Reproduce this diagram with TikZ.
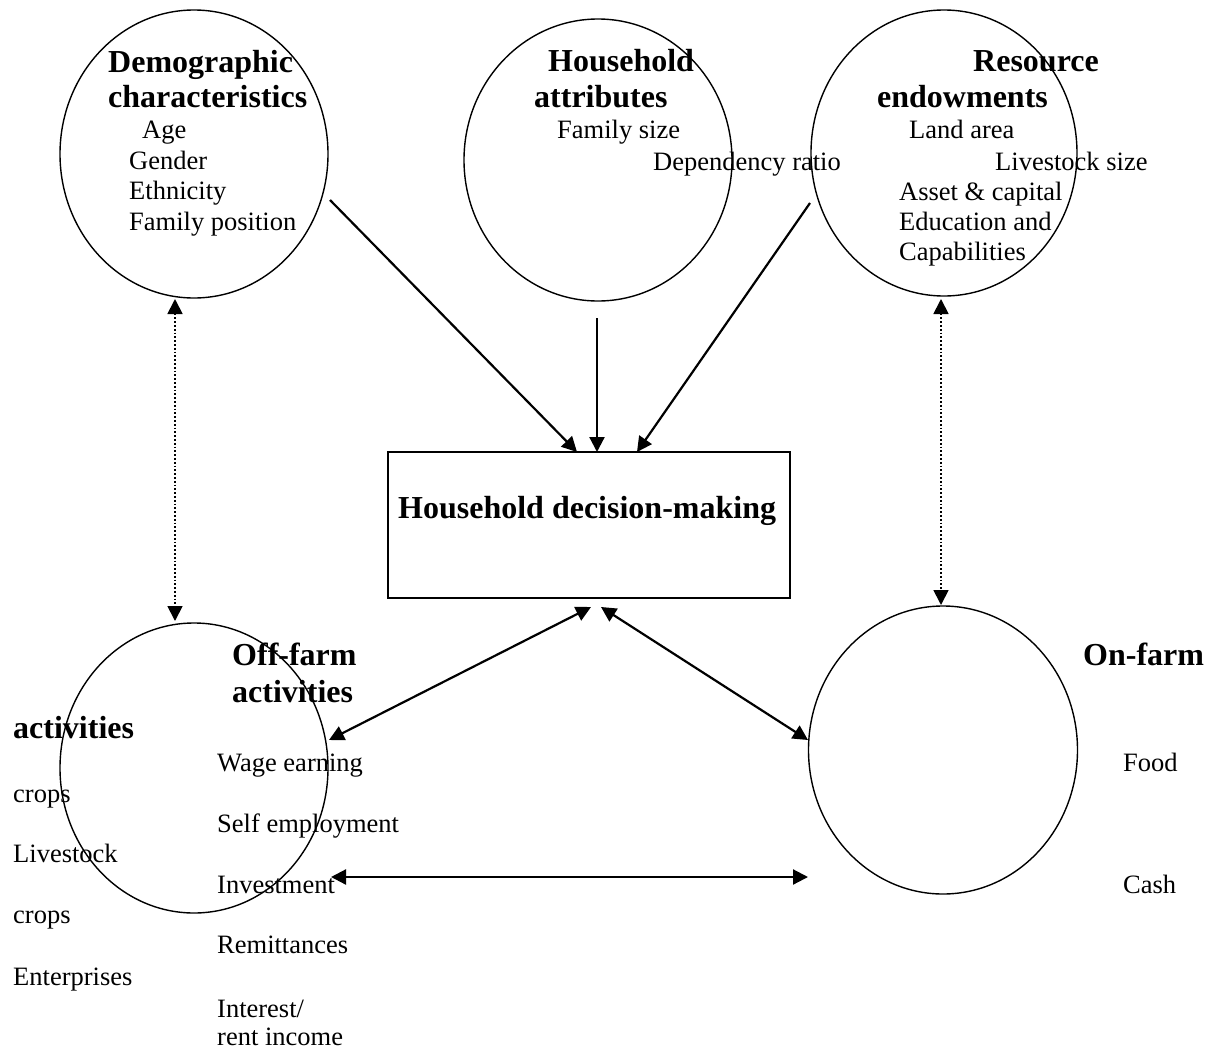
\documentclass[tikz,border=0pt]{standalone}
\usepackage{fontspec}
\setmainfont{Liberation Serif}
\usetikzlibrary{arrows.meta,shapes.geometric}
\begin{document}
\begin{tikzpicture}[x=1pt,y=-1pt,
  oval/.style={draw,ellipse,line width=1.4pt,minimum width=268pt,minimum height=288pt,inner sep=0pt},
  box/.style={draw,rectangle,line width=1.6pt,minimum width=402pt,minimum height=146pt,inner sep=0pt},
  hd/.style={anchor=base west,inner sep=0pt,font=\fontsize{32}{35}\selectfont\bfseries},
  tx/.style={anchor=base west,inner sep=0pt,font=\fontsize{26.5}{30}\selectfont},
  tip/.style={Triangle[length=15pt,width=15pt]},
  link/.style={line width=2.2pt,-{Triangle[length=15pt,width=15pt]}},
  blink/.style={line width=2.2pt,{Triangle[length=15pt,width=15pt]}-{Triangle[length=15pt,width=15pt]}},
  dlink/.style={line width=1.8pt,dotted,{Triangle[length=15pt,width=15pt]}-{Triangle[length=15pt,width=15pt]}}]
\useasboundingbox (0,0) rectangle (1211,1050);

% shapes
\node[oval] (demo) at (194,154) {};
\node[oval,minimum height=282pt] (attr) at (598,160) {};
\node[oval,minimum width=266pt,minimum height=286pt] (res) at (944,153) {};
\node[oval,minimum height=290pt] (off) at (194,768) {};
\node[oval,minimum width=269pt] (on) at (943,750) {};
\node[box] (dec) at (589,525) {};

% texts
\node[hd] (t1) at (108,72) {Demographic};
\node[hd] (t2) at (108,107) {characteristics};
\node[tx] (t3) at (142,138) {Age};
\node[tx] (t4) at (129,169) {Gender};
\node[tx] (t5) at (129,199) {Ethnicity};
\node[tx] (t6) at (129,230) {Family position};

\node[hd] (h1) at (548,71) {Household};
\node[hd] (h2) at (534,107) {attributes};
\node[tx] (h3) at (557,138) {Family size};
\node[tx] (h4) at (653,170) {Dependency ratio};

\node[hd] (r1) at (973,71) {Resource};
\node[hd] (r2) at (877,107) {endowments};
\node[tx] (r3) at (909,138) {Land area};
\node[tx] (r4) at (995,170) {Livestock size};
\node[tx] (r5) at (899,200) {Asset \& capital};
\node[tx] (r6) at (899,230) {Education and};
\node[tx] (r7) at (899,260) {Capabilities};

\node[hd] (d1) at (398,518) {Household decision-making};

\node[hd] (o1) at (232,665) {Off-farm};
\node[hd] (o2) at (232,702) {activities};
\node[tx] (o3) at (217,771) {Wage earning};
\node[tx] (o4) at (217,832) {Self employment};
\node[tx] (o5) at (217,893) {Investment};
\node[tx] (o6) at (217,953) {Remittances};
\node[tx] (o7) at (217,1017) {Interest/};
\node[tx] (o8) at (217,1045) {rent income};

\node[hd] (n1) at (1083,665) {On-farm};
\node[hd] (n2) at (13,738) {activities};
\node[tx] (n3) at (1123,771) {Food};
\node[tx] (n4) at (13,802) {crops};
\node[tx] (n5) at (13,862) {Livestock};
\node[tx] (n6) at (1123,893) {Cash};
\node[tx] (n7) at (13,923) {crops};
\node[tx] (n8) at (13,985) {Enterprises};

% connector end points
\coordinate (demoOut) at (330,200);
\coordinate (decIn1) at (577,452);
\coordinate (attrOut) at (597,318);
\coordinate (decIn2) at (597,452);
\coordinate (resOut) at (810,203);
\coordinate (decIn3) at (637,452);
\coordinate (decB1) at (591,607);
\coordinate (decB2) at (601,607);
\coordinate (offR) at (329,740);
\coordinate (onL) at (808,740);
\coordinate (offInv) at (331,877);
\coordinate (onCash) at (808,877);
\coordinate (demoB) at (175,299);
\coordinate (offT) at (175,621);
\coordinate (resB) at (941,299);
\coordinate (onT) at (941,605);

% connectors
\draw[link] (demoOut) -- (decIn1);
\draw[link] (attrOut) -- (decIn2);
\draw[link] (resOut) -- (decIn3);
\draw[blink] (decB1) -- (offR);
\draw[blink] (decB2) -- (onL);
\draw[blink] (offInv) -- (onCash);
\draw[dlink] (demoB) -- (offT);
\draw[dlink] (resB) -- (onT);
\end{tikzpicture}
\end{document}
